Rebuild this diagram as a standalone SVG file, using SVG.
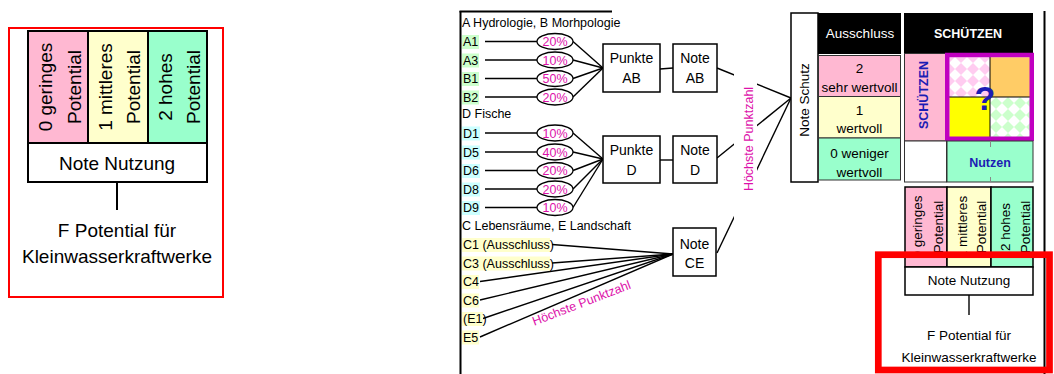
<svg xmlns="http://www.w3.org/2000/svg" width="1054" height="374" viewBox="0 0 1054 374">
<defs>
<style>
text{font-family:"Liberation Sans",Arial,sans-serif;fill:#000}
.t19{font-size:19px}
.t12{font-size:12.5px}
.t13{font-size:13.5px}
.t14{font-size:14px}
.mid{text-anchor:middle}
.mag{fill:#dd11aa}
.blue{fill:#1c1cb4;font-weight:bold}
.wb{fill:#fff}
.bold{font-weight:bold}
.box{fill:#fff;stroke:#000;stroke-width:1.5}
.cell{stroke:#333;stroke-width:1}
.bcell{stroke:#000;stroke-width:1.5}
.ln{stroke:#000;stroke-width:1.4;fill:none}
.ell{fill:#fff;stroke:#000;stroke-width:1.3}
.pink{fill:#ffb8d2}
.yel{fill:#ffffcc}
.grn{fill:#99ffcc}
.lab-ab{fill:#ccffcc}
.lab-d{fill:#ccffff}
.lab-ce{fill:#ffffcc}
</style>
<pattern id="chkPink" patternUnits="userSpaceOnUse" width="12" height="12" x="949" y="57">
<rect width="12" height="12" fill="#ffccf0"/>
<polygon points="6,0 12,6 6,12 0,6" fill="#fff"/>
</pattern>
<pattern id="chkGreen" patternUnits="userSpaceOnUse" width="12" height="12" x="990" y="97">
<rect width="12" height="12" fill="#fff"/>
<polygon points="6,0 12,6 6,12 0,6" fill="#ccffcc"/>
</pattern>
</defs>
<rect width="1054" height="374" fill="#fff"/>

<!-- Left panel -->
<g id="panel-left">
<rect x="9" y="28" width="214" height="269" fill="none" stroke="#ff0000" stroke-width="2"/>
<g id="left-pot0">
<rect x="28" y="31" width="60" height="112" class="pink" stroke="#000" stroke-width="2"/>
<text class="t19 mid" transform="translate(51.5,87) rotate(-90)">0 geringes</text>
<text class="t19 mid" transform="translate(81,87) rotate(-90)">Potential</text>
</g>
<g id="left-pot1">
<rect x="88" y="31" width="60" height="112" class="yel" stroke="#000" stroke-width="2"/>
<text class="t19 mid" transform="translate(111.5,87) rotate(-90)">1 mittleres</text>
<text class="t19 mid" transform="translate(140,87) rotate(-90)">Potential</text>
</g>
<g id="left-pot2">
<rect x="148" y="31" width="59" height="112" class="grn" stroke="#000" stroke-width="2"/>
<text class="t19 mid" transform="translate(171.5,87) rotate(-90)">2 hohes</text>
<text class="t19 mid" transform="translate(200,87) rotate(-90)">Potential</text>
</g>
<g id="left-note">
<rect x="28" y="143" width="179" height="39" fill="#fff" stroke="#000" stroke-width="2"/>
<text class="t19 mid" x="117" y="170">Note Nutzung</text>
</g>
<g id="left-connector">
<line x1="117" y1="182" x2="117" y2="210" stroke="#000" stroke-width="2"/>
</g>
<g id="left-f">
<text class="t19 mid" x="117" y="237">F Potential für</text>
<text class="t19 mid" x="117" y="263">Kleinwasserkraftwerke</text>
</g>
</g>

<!-- Main frame -->
<g id="frame" stroke="#000" stroke-width="2" fill="none">
<line x1="460.5" y1="11" x2="460.5" y2="374"/>
<line x1="459.5" y1="11.5" x2="612" y2="11.5"/>
<line x1="1044.5" y1="11" x2="1044.5" y2="374"/>
</g>

<!-- Section headers -->
<text class="t12" x="462" y="27">A Hydrologie, B Morhpologie</text>
<text class="t12" x="462" y="118">D Fische</text>
<text class="t12" x="462" y="229.5">C Lebensräume, E Landschaft</text>

<!-- Connectors -->
<g id="connectors" class="ln">
<!-- A/B -->
<line x1="485" y1="41.5" x2="537" y2="41.5"/>
<line x1="485" y1="60" x2="537" y2="60"/>
<line x1="485" y1="78.5" x2="537" y2="78.5"/>
<line x1="485" y1="97" x2="537" y2="97"/>
<line x1="573" y1="41.5" x2="603" y2="68"/>
<line x1="573" y1="60" x2="603" y2="68"/>
<line x1="573" y1="78.5" x2="603" y2="68"/>
<line x1="573" y1="97" x2="603" y2="68"/>
<!-- D -->
<line x1="485" y1="133" x2="537" y2="133"/>
<line x1="485" y1="152" x2="537" y2="152"/>
<line x1="485" y1="170.5" x2="537" y2="170.5"/>
<line x1="485" y1="189" x2="537" y2="189"/>
<line x1="485" y1="207.5" x2="537" y2="207.5"/>
<line x1="573" y1="133" x2="603" y2="159"/>
<line x1="573" y1="152" x2="603" y2="159"/>
<line x1="573" y1="170.5" x2="603" y2="159"/>
<line x1="573" y1="189" x2="603" y2="159"/>
<line x1="573" y1="207.5" x2="603" y2="159"/>
<!-- Punkte to Note -->
<line x1="660" y1="69" x2="673" y2="68"/>
<line x1="660" y1="160" x2="673" y2="160"/>
<!-- C/E -->
<line x1="552" y1="244.5" x2="673" y2="254"/>
<line x1="552" y1="263" x2="673" y2="254"/>
<line x1="480" y1="281.5" x2="673" y2="254"/>
<line x1="480" y1="300" x2="673" y2="254"/>
<line x1="483" y1="318.5" x2="673" y2="254"/>
<line x1="480" y1="337" x2="673" y2="254"/>
<!-- Notes to Note Schutz -->
<line x1="717" y1="68" x2="791" y2="98"/>
<line x1="717" y1="158" x2="791" y2="98"/>
<line x1="717" y1="253" x2="791" y2="98"/>
<line x1="969" y1="295" x2="969" y2="315"/>
</g>

<!-- Labels A/B -->
<g id="n-A1"><rect x="462" y="35" width="17" height="14" class="lab-ab"/><text class="t12" x="463" y="46">A1</text></g>
<g id="n-A3"><rect x="462" y="53.5" width="17" height="14" class="lab-ab"/><text class="t12" x="463" y="64.5">A3</text></g>
<g id="n-B1"><rect x="462" y="72" width="17" height="14" class="lab-ab"/><text class="t12" x="463" y="83">B1</text></g>
<g id="n-B2"><rect x="462" y="90.5" width="17" height="14" class="lab-ab"/><text class="t12" x="463" y="101.5">B2</text></g>
<!-- Labels D -->
<g id="n-D1"><rect x="462" y="126.5" width="18" height="14" class="lab-d"/><text class="t12" x="463" y="137.5">D1</text></g>
<g id="n-D5"><rect x="462" y="145.5" width="18" height="14" class="lab-d"/><text class="t12" x="463" y="156.5">D5</text></g>
<g id="n-D6"><rect x="462" y="164" width="18" height="14" class="lab-d"/><text class="t12" x="463" y="175">D6</text></g>
<g id="n-D8"><rect x="462" y="182.5" width="18" height="14" class="lab-d"/><text class="t12" x="463" y="193.5">D8</text></g>
<g id="n-D9"><rect x="462" y="201" width="18" height="14" class="lab-d"/><text class="t12" x="463" y="212">D9</text></g>
<!-- Labels C/E -->
<g id="n-C1"><rect x="462" y="238" width="88" height="14" class="lab-ce"/><text class="t12" x="463" y="249">C1 (Ausschluss)</text></g>
<g id="n-C3"><rect x="462" y="256.5" width="88" height="14" class="lab-ce"/><text class="t12" x="463" y="267.5">C3 (Ausschluss)</text></g>
<g id="n-C4"><rect x="462" y="275" width="17" height="14" class="lab-ce"/><text class="t12" x="463" y="286">C4</text></g>
<g id="n-C6"><rect x="462" y="293.5" width="17" height="14" class="lab-ce"/><text class="t12" x="463" y="304.5">C6</text></g>
<g id="n-E1"><rect x="462" y="312" width="21" height="14" class="lab-ce"/><text class="t12" x="463" y="323">(E1)</text></g>
<g id="n-E5"><rect x="462" y="330.5" width="17" height="14" class="lab-ce"/><text class="t12" x="463" y="341.5">E5</text></g>

<!-- Weight ellipses -->
<g id="w-A1"><ellipse cx="555" cy="41.5" rx="18" ry="8" class="ell"/><text class="t12 mid mag" x="555" y="46">20%</text></g>
<g id="w-A3"><ellipse cx="555" cy="60" rx="18" ry="8" class="ell"/><text class="t12 mid mag" x="555" y="64.5">10%</text></g>
<g id="w-B1"><ellipse cx="555" cy="78.5" rx="18" ry="8" class="ell"/><text class="t12 mid mag" x="555" y="83">50%</text></g>
<g id="w-B2"><ellipse cx="555" cy="97" rx="18" ry="8" class="ell"/><text class="t12 mid mag" x="555" y="101.5">20%</text></g>
<g id="w-D1"><ellipse cx="555" cy="133" rx="18" ry="8" class="ell"/><text class="t12 mid mag" x="555" y="137.5">10%</text></g>
<g id="w-D5"><ellipse cx="555" cy="152" rx="18" ry="8" class="ell"/><text class="t12 mid mag" x="555" y="156.5">40%</text></g>
<g id="w-D6"><ellipse cx="555" cy="170.5" rx="18" ry="8" class="ell"/><text class="t12 mid mag" x="555" y="175">20%</text></g>
<g id="w-D8"><ellipse cx="555" cy="189" rx="18" ry="8" class="ell"/><text class="t12 mid mag" x="555" y="193.5">20%</text></g>
<g id="w-D9"><ellipse cx="555" cy="207.5" rx="18" ry="8" class="ell"/><text class="t12 mid mag" x="555" y="212">10%</text></g>

<!-- Boxes -->
<g id="n-punkte-ab"><rect x="603" y="44" width="57" height="48" class="box"/><text class="t14 mid" x="631.5" y="63">Punkte</text><text class="t14 mid" x="631.5" y="83">AB</text></g>
<g id="n-note-ab"><rect x="673" y="44" width="44" height="48" class="box"/><text class="t14 mid" x="695" y="63">Note</text><text class="t14 mid" x="695" y="83">AB</text></g>
<g id="n-punkte-d"><rect x="603" y="136" width="57" height="47" class="box"/><text class="t14 mid" x="631.5" y="155">Punkte</text><text class="t14 mid" x="631.5" y="175">D</text></g>
<g id="n-note-d"><rect x="673" y="136" width="44" height="47" class="box"/><text class="t14 mid" x="695" y="155">Note</text><text class="t14 mid" x="695" y="175">D</text></g>
<g id="n-note-ce"><rect x="673" y="228" width="43" height="48" class="box"/><text class="t14 mid" x="694.5" y="249">Note</text><text class="t14 mid" x="694.5" y="268">CE</text></g>

<!-- Höchste Punktzahl labels -->
<g id="lbl-hp-vertical">
<rect x="734" y="74" width="23" height="146" fill="#fff"/>
<text class="t12 mid mag" transform="translate(753,139) rotate(-90)">Höchste Punktzahl</text>
</g>
<text class="t12 mid mag" transform="translate(583,307) rotate(-21)">Höchste Punktzahl</text>

<!-- Note Schutz -->
<g id="n-note-schutz">
<rect x="791" y="13" width="27" height="169" class="box"/>
<text class="t13 mid" transform="translate(809,100) rotate(-90)">Note Schutz</text>
</g>

<!-- Ausschluss column -->
<g id="n-schutz-scale">
<rect x="818" y="13" width="83" height="41" fill="#000"/>
<text class="t13 mid wb" x="860" y="38">Ausschluss</text>
<rect x="818.5" y="55.5" width="82" height="41" class="pink cell"/>
<text class="t13 mid" x="859.5" y="73">2</text>
<text class="t13 mid" x="859.5" y="92">sehr wertvoll</text>
<rect x="818.5" y="96.5" width="82" height="41.5" class="yel cell"/>
<text class="t13 mid" x="859.5" y="115">1</text>
<text class="t13 mid" x="859.5" y="133">wertvoll</text>
<rect x="818.5" y="138" width="82" height="42" class="grn cell"/>
<text class="t13 mid" x="859.5" y="158">0 weniger</text>
<text class="t13 mid" x="859.5" y="177">wertvoll</text>
</g>

<!-- SCHÜTZEN matrix -->
<g id="n-matrix">
<rect x="904" y="13" width="129" height="40" fill="#000"/>
<text class="t12 mid wb bold" x="968" y="38">SCHÜTZEN</text>
<rect x="904.5" y="53.5" width="42" height="87.5" class="pink cell"/>
<text class="t12 mid blue" transform="translate(928,95) rotate(-90)">SCHÜTZEN</text>
<rect x="949.5" y="57.25" width="40.5" height="39.75" fill="url(#chkPink)"/>
<rect x="990" y="57.25" width="41.75" height="39.75" fill="#ffcc66"/>
<rect x="949.5" y="97" width="40.5" height="41.75" fill="#ffff00"/>
<rect x="990" y="97" width="41.75" height="41.75" fill="url(#chkGreen)"/>
<line x1="990" y1="57" x2="990" y2="139" stroke="#000" stroke-width="1"/>
<line x1="949" y1="97" x2="1032" y2="97" stroke="#000" stroke-width="1"/>
<rect x="947.25" y="55" width="84.5" height="83.75" fill="none" stroke="#c000c0" stroke-width="4.5"/>
<text x="985" y="110" class="mid blue" style="font-size:34px">?</text>
<rect x="904.5" y="141" width="42" height="41" fill="#fff" class="cell"/>
<rect x="947" y="141" width="86" height="41" class="grn cell"/>
<line x1="990.5" y1="141" x2="990.5" y2="147" stroke="#888" stroke-width="1"/>
<line x1="990.5" y1="177" x2="990.5" y2="182" stroke="#888" stroke-width="1"/>
<text class="t12 mid blue" x="990" y="167">Nutzen</text>
</g>

<!-- Right Nutzung table -->
<g id="n-right-pot0">
<rect x="905" y="187" width="42" height="80" class="pink bcell"/>
<text class="t13 mid" transform="translate(922,227) rotate(-90)">0 geringes</text>
<text class="t13 mid" transform="translate(943,227) rotate(-90)">Potential</text>
</g>
<g id="n-right-pot1">
<rect x="947" y="187" width="44" height="80" class="yel bcell"/>
<text class="t13 mid" transform="translate(967,227) rotate(-90)">1 mittleres</text>
<text class="t13 mid" transform="translate(985.5,227) rotate(-90)">Potential</text>
</g>
<g id="n-right-pot2">
<rect x="991" y="187" width="42" height="80" class="grn bcell"/>
<text class="t13 mid" transform="translate(1010,227) rotate(-90)">2 hohes</text>
<text class="t13 mid" transform="translate(1029.5,227) rotate(-90)">Potential</text>
</g>
<g id="n-right-note">
<rect x="905" y="267" width="128" height="28" fill="#fff" class="bcell"/>
<text class="t13 mid" x="969" y="285">Note Nutzung</text>
</g>
<g id="n-right-f">
<text class="t13 mid" x="969" y="340">F Potential für</text>
<text class="t13 mid" x="969" y="362">Kleinwasserkraftwerke</text>
</g>

<!-- Red highlight -->
<rect id="highlight" x="878.3" y="254.7" width="171.2" height="115.3" fill="none" stroke="#ff0000" stroke-width="6.7"/>
</svg>
